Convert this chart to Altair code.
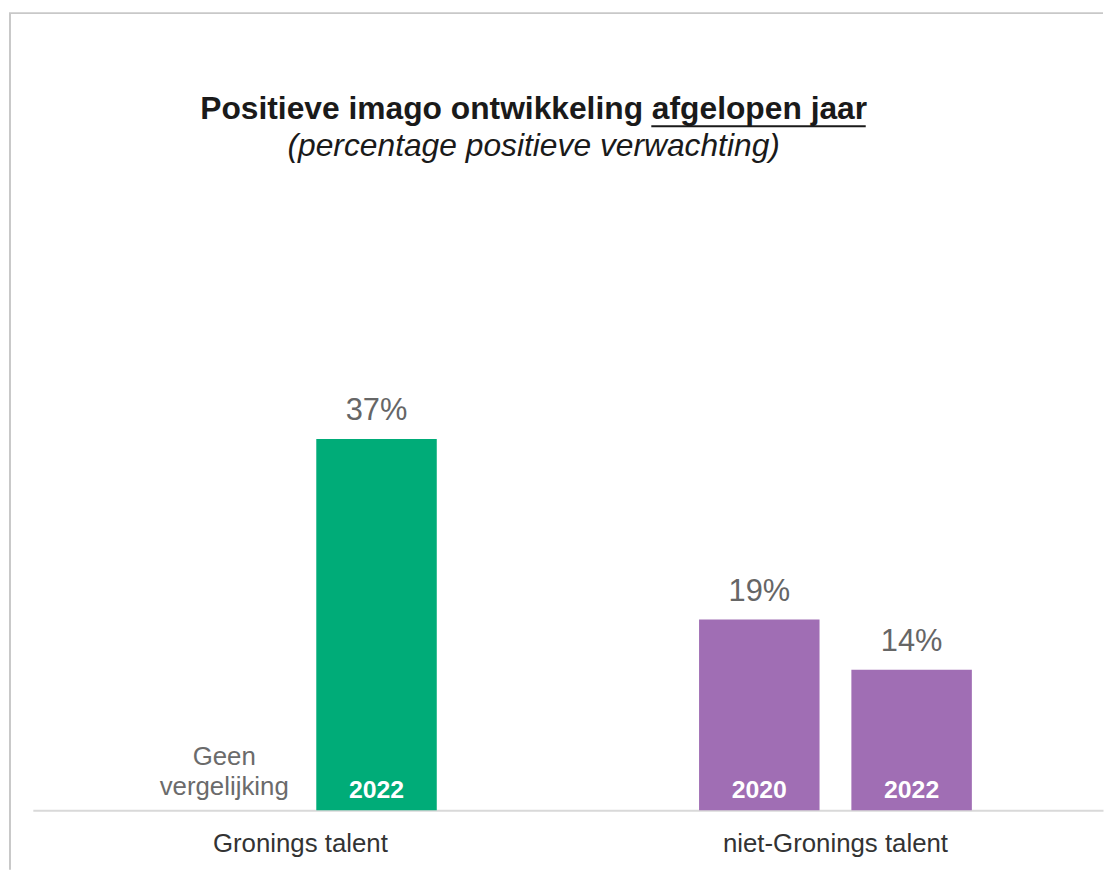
import altair as alt
import pandas as pd

# ---- data ----
groups = ["Gronings talent", "Gronings talent", "niet-Gronings talent", "niet-Gronings talent"]
slots = ["1", "2", "1", "2"]
years = ["", "2022", "2020", "2022"]
values = [None, 37, 19, 14]
notes = ["Geen\nvergelijking", "", "", ""]
group_order = ["Gronings talent", "niet-Gronings talent"]
group_colors = ["#00AC78", "#A06EB4"]

title_text = "Positieve imago ontwikkeling afgelopen jaar"
subtitle_text = "(percentage positieve verwachting)"

df = pd.DataFrame({"group": groups, "slot": slots, "year": years,
                   "value": values, "note": notes})

FONT = "Liberation Sans"
W, H = 1078, 455

x_enc = alt.X("group:N", sort=group_order,
              scale=alt.Scale(paddingInner=0, paddingOuter=0),
              axis=alt.Axis(title=None, labelAngle=0, ticks=False,
                            domainColor="#d9d9d9", domainWidth=2,
                            labelFontSize=26, labelColor="#333333",
                            labelPadding=21, labelFont=FONT, labelLimit=500))
xo_enc = alt.XOffset("slot:N", scale=alt.Scale(paddingInner=0.209, paddingOuter=0.861))
y_scale = alt.Scale(domain=[0, 45])

base = alt.Chart(df)

bars = base.transform_filter("isValid(datum.value)").mark_bar().encode(
    x=x_enc, xOffset=xo_enc,
    y=alt.Y("value:Q", scale=y_scale, axis=None),
    color=alt.Color("group:N", scale=alt.Scale(domain=group_order, range=group_colors), legend=None),
)

value_labels = base.transform_filter("isValid(datum.value)").transform_calculate(
    label="datum.value + '%'"
).mark_text(baseline="alphabetic", dy=-19, fontSize=31, color="#666666", font=FONT).encode(
    x=x_enc, xOffset=xo_enc,
    y=alt.Y("value:Q", scale=y_scale, axis=None),
    text="label:N",
)

year_labels = base.transform_filter("isValid(datum.value)").mark_text(
    baseline="alphabetic", dy=-12, fontSize=25, fontWeight="bold", color="white", font=FONT
).encode(
    x=x_enc, xOffset=xo_enc,
    y=alt.datum(0, scale=y_scale),
    text="year:N",
)

note_labels = base.transform_filter("datum.note != ''").mark_text(
    baseline="alphabetic", dy=-46, fontSize=26, color="#6b6b6b", font=FONT,
    lineBreak="\n", lineHeight=31
).encode(
    x=x_enc, xOffset=xo_enc,
    y=alt.datum(0, scale=y_scale),
    text="note:N",
)

one = pd.DataFrame({"d": [0]})
frame_top = alt.Chart(one).mark_rule(color="#c8c8c8", strokeWidth=2).encode(
    x=alt.value(-24), x2=alt.value(W), y=alt.value(-348))
frame_left = alt.Chart(one).mark_rule(color="#c8c8c8", strokeWidth=2).encode(
    x=alt.value(-23), y=alt.value(-348), y2=alt.value(515))

title_mark = alt.Chart(pd.DataFrame({"t": [title_text]})).mark_text(
    align="center", baseline="alphabetic", fontSize=32, fontWeight="bold",
    font=FONT, color="#1a1a1a"
).encode(x=alt.value(504.5), y=alt.value(-241), text="t:N")
subtitle_mark = alt.Chart(pd.DataFrame({"t": [subtitle_text]})).mark_text(
    align="center", baseline="alphabetic", fontSize=32, fontStyle="italic",
    font=FONT, color="#1a1a1a"
).encode(x=alt.value(504.5), y=alt.value(-204), text="t:N")
underline = alt.Chart(one).mark_rule(color="#1a1a1a", strokeWidth=2).encode(
    x=alt.value(623), x2=alt.value(839), y=alt.value(-234))

chart = alt.layer(bars, value_labels, year_labels, note_labels,
                  frame_top, frame_left, title_mark, subtitle_mark, underline).properties(
    width=W, height=H, background="white",
    padding={"left": 0, "top": 1, "right": 0, "bottom": 0},
).configure_view(stroke="transparent", strokeWidth=0)

chart.save("out.html", embed_options={"renderer": "svg", "actions": False})
